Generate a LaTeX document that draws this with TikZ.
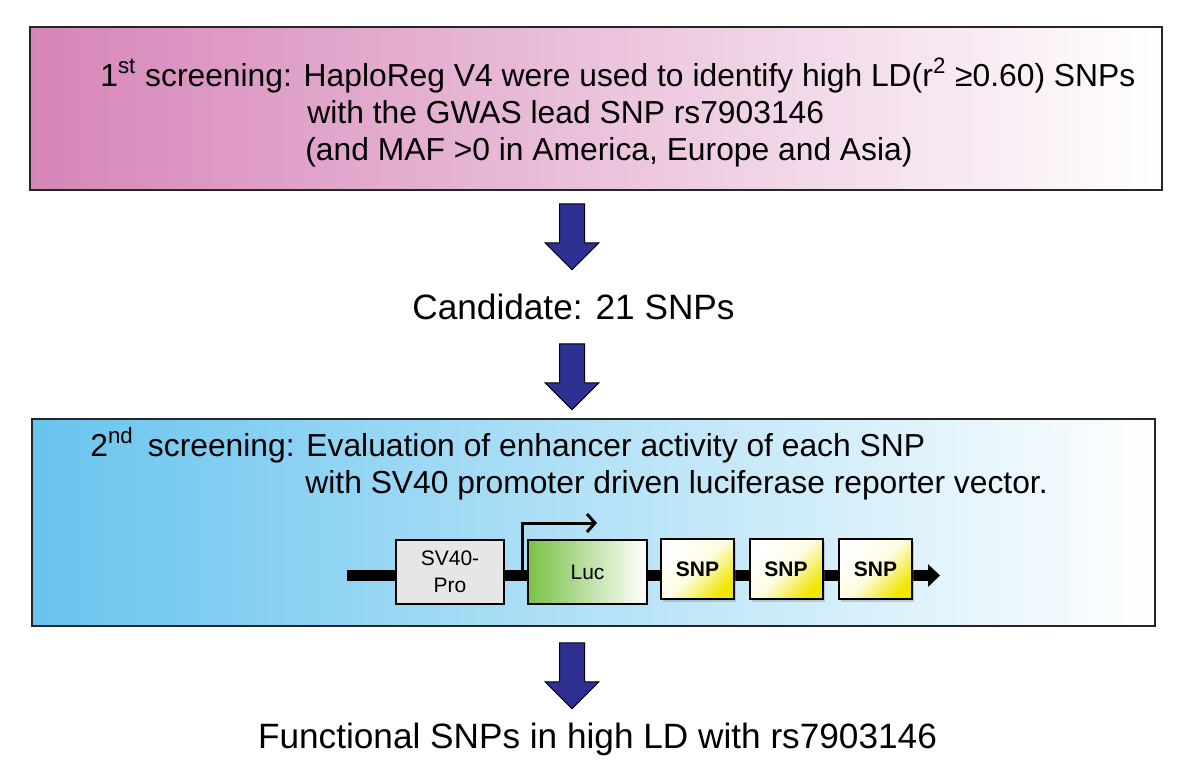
\documentclass[tikz,border=0pt]{standalone}
\usepackage{fontspec}
\setmainfont{Liberation Sans}
\usetikzlibrary{shapes.arrows,arrows.meta,shadows}
\definecolor{screenpink}{RGB}{214,133,184}
\definecolor{screenblue}{RGB}{104,196,238}
\definecolor{flowblue}{RGB}{46,49,146}
\definecolor{lucgreen}{RGB}{122,193,72}
\definecolor{snpyellow}{RGB}{240,230,0}
\definecolor{promgray}{RGB}{230,230,230}
\tikzset{
  screenbox/.style={draw=black!85, line width=0.6pt, inner sep=0pt},
  flowarrow/.style={single arrow, draw=black, line width=0.5pt, fill=flowblue,
    inner xsep=0pt, inner ysep=6pt, minimum height=33pt, minimum width=26.5pt,
    single arrow head extend=7.25pt, rotate=-90},
  boxtext/.style={anchor=base west, inner sep=0pt, font=\fontsize{15.9}{19}\selectfont},
  steptext/.style={anchor=base, inner sep=0pt, font=\fontsize{17.6}{21}\selectfont},
  part/.style={draw=black, line width=1pt, inner sep=0pt, align=center,
    font=\fontsize{10.5}{13.5}\selectfont},
  snpbox/.style={part, minimum width=36.5pt, minimum height=30pt, font=\fontsize{10.5}{13.5}\selectfont\bfseries,
    drop shadow={shadow xshift=1.2pt, shadow yshift=-1.5pt, opacity=0.35},
    top color=white, bottom color=snpyellow, middle color=white!88!snpyellow, shading angle=45}
}
\begin{document}
\begin{tikzpicture}[x=0.5pt, y=-0.5pt]
  \path[use as bounding box, fill=white] (0,0) rectangle (1194,783);
  \node[screenbox, minimum width=566pt, minimum height=81.5pt, left color=screenpink, right color=white] (scr1) at (596,108.5) {};
  \node[boxtext] (scr1a) at (100,86) {1\textsuperscript{st} screening: HaploReg V4 were used to identify high LD(r\textsuperscript{2} ≥0.60) SNPs};
  \node[boxtext] (scr1b) at (307,123) {with the GWAS lead SNP rs7903146};
  \node[boxtext] (scr1c) at (305,160) {(and MAF >0 in America, Europe and Asia)};
  \node[flowarrow] (arr1) at (572,230.5) {};
  \node[steptext] (cand) at (573.5,319) {Candidate: 21 SNPs};
  \node[flowarrow] (arr2) at (572,370.5) {};
  \node[screenbox, minimum width=561.5pt, minimum height=103.5pt, left color=screenblue, right color=white] (scr2) at (593.5,522.5) {};
  \node[boxtext] (scr2a) at (90,456) {2\textsuperscript{nd}\, screening: Evaluation of enhancer activity of each SNP};
  \node[boxtext] (scr2b) at (305,493) {with SV40 promoter driven luciferase reporter vector.};
  \coordinate (bbl) at (347,575.5);
  \coordinate (bbr) at (940,575.5);
  \draw[line width=5.5pt, -{Triangle[length=6pt,width=11pt]}] (bbl) -- (bbr);
  \node[part, minimum width=54pt, minimum height=32pt, fill=promgray] (sv40) at (450,572) {SV40-\\Pro};
  \node[part, minimum width=59.5pt, minimum height=32pt, left color=lucgreen, right color=white] (luc) at (587.5,572) {Luc};
  \node[snpbox] (snp1) at (697.5,569) {SNP};
  \node[snpbox] (snp2) at (786,569) {SNP};
  \node[snpbox] (snp3) at (875.5,569) {SNP};
  \coordinate (tss) at (522,572);
  \coordinate (tssend) at (597,523);
  \draw[line width=1.5pt, -{Straight Barb[length=4pt,width=9pt]}] (tss) |- (tssend);
  \node[flowarrow] (arr3) at (572,669.5) {};
  \node[steptext] (func) at (597.5,748) {Functional SNPs in high LD with rs7903146};
\end{tikzpicture}
\end{document}
